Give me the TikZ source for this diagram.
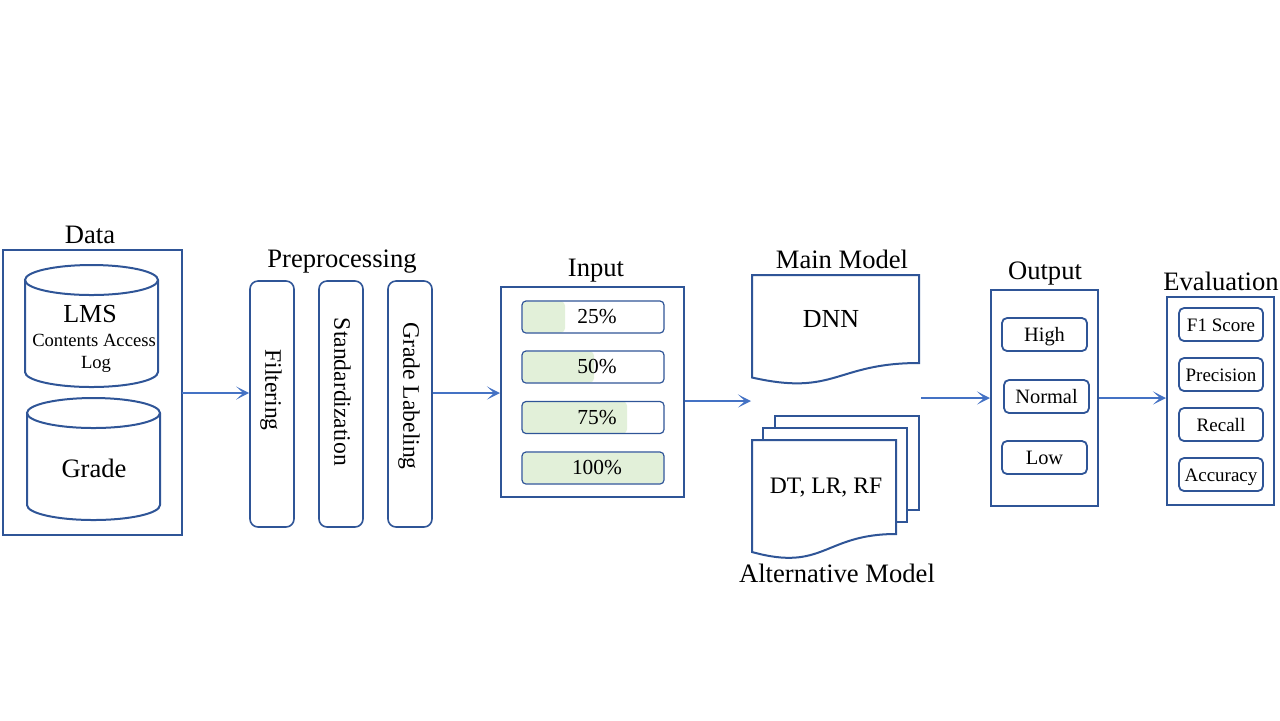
\documentclass[tikz,border=0pt]{standalone}
\usepackage{fontspec}
\setmainfont{Liberation Serif}
\usetikzlibrary{arrows.meta}
\definecolor{boxblue}{RGB}{47,85,151}
\definecolor{arrowblue}{RGB}{68,114,196}
\definecolor{barfill}{RGB}{226,240,217}

\begin{document}
\begin{tikzpicture}[x=0.5pt, y=-0.5pt,
		box_style/.style={draw=boxblue, line width=1pt, inner sep=0pt},
		db_style/.style={draw=boxblue, line width=1pt},
		doc_style/.style={draw=boxblue, line width=1pt, fill=white},
		pre_style/.style={draw=boxblue, line width=0.8pt, rounded corners=4pt, minimum width=22pt, minimum height=123pt, inner sep=0pt},
		bar_style/.style={draw=boxblue, line width=0.6pt, rounded corners=2pt, minimum width=71pt, minimum height=16pt, inner sep=0pt, font=\fontsize{10.7}{12}\selectfont, text height=0.66em, text depth=0pt},
		btn_style/.style={draw=boxblue, line width=0.9pt, rounded corners=2.5pt, minimum height=16.5pt, inner sep=0pt, text height=0.66em, text depth=0pt},
		title_style/.style={anchor=base, inner sep=0pt, font=\fontsize{13.3}{15}\selectfont},
		text_style/.style={inner sep=0pt, text height=0.66em, text depth=0pt},
		rot_style/.style={rotate=-90, inner sep=0pt, font=\fontsize{11.8}{13}\selectfont, text height=0.66em, text depth=0pt},
		edge_style/.style={draw=arrowblue, line width=1pt, -{Stealth[length=6.5pt, width=6.5pt, inset=3.5pt]}}]
		
		\useasboundingbox (0,0) rectangle (1280,720);
		
		% data
		\node[box_style, minimum width=89.5pt, minimum height=142.5pt] (data) at (92.5,392.5) {};
		\node[title_style] (t_data) at (90,243) {Data};
		\draw[db_style] (91.5,280) ellipse [x radius=66.5, y radius=15];
		\draw[db_style] (25,280) -- (25,372) arc[start angle=180, end angle=0, x radius=66.5, y radius=15] -- (158,280);
		\draw[db_style] (93.5,413) ellipse [x radius=66.5, y radius=15];
		\draw[db_style] (27,413) -- (27,505) arc[start angle=180, end angle=0, x radius=66.5, y radius=15] -- (160,413);
		\node[anchor=base, inner sep=0pt, font=\fontsize{13}{15}\selectfont] (lms) at (90,322) {LMS};
		\node[anchor=base, inner sep=0pt, font=\fontsize{9.3}{11}\selectfont] (lms1) at (94,346) {Contents Access};
		\node[anchor=base, inner sep=0pt, font=\fontsize{9.3}{11}\selectfont] (lms2) at (96,368) {Log};
		\node[anchor=base, inner sep=0pt, font=\fontsize{13.3}{15}\selectfont] (grade) at (94,477) {Grade};
		\coordinate (d_out) at (182,393);
		
		% preprocessing
		\node[title_style] (t_pre) at (342,267) {Preprocessing};
		\node[pre_style] (p1) at (272,404) {};
		\node[pre_style] (p2) at (341,404) {};
		\node[pre_style] (p3) at (410,404) {};
		\node[rot_style] (r1) at (272,390) {Filtering};
		\node[rot_style] (r2) at (341,392) {Standardization};
		\node[rot_style] (r3) at (410,396) {Grade Labeling};
		
		% input
		\node[box_style, minimum width=91.5pt, minimum height=105pt] (inp) at (592.5,392) {};
		\node[title_style] (t_in) at (596,276) {Input};
		\fill[barfill, rounded corners=2pt] (522.5,301.5) rectangle (565,332.5);
		\fill[barfill, rounded corners=2pt] (522.5,351.5) rectangle (594,382.5);
		\fill[barfill, rounded corners=2pt] (522.5,401.5) rectangle (627,433.5);
		\fill[barfill, rounded corners=2pt] (522.5,452.5) rectangle (663.5,483.5);
		\node[bar_style] (b1) at (593,317) {\hspace{4pt}25\%};
		\node[bar_style] (b2) at (593,367) {\hspace{4pt}50\%};
		\node[bar_style] (b3) at (593,417.5) {\hspace{4pt}75\%};
		\node[bar_style] (b4) at (593,468) {\hspace{4pt}100\%};
		
		% models
		\node[title_style] (t_main) at (842,268) {Main Model};
		\draw[doc_style] (752,275) -- (919,275) -- (919,363) .. controls (835.5,363) and (835.5,396.5) .. (752,377.5) -- cycle;
		\node[text_style, font=\fontsize{13}{15}\selectfont] (dnn) at (831,320.5) {DNN};
		\draw[doc_style] (775,428) -- (775,416) -- (919,416) -- (919,510) -- (907,510);
		\draw[doc_style] (763,440) -- (763,428) -- (907,428) -- (907,522) -- (896,522);
		\draw[doc_style] (752,440) -- (896,440) -- (896,534) .. controls (824,534) and (824,572) .. (752,552) -- cycle;
		\node[text_style, font=\fontsize{11.8}{13}\selectfont] (alt) at (826,487) {DT, LR, RF};
		\node[title_style] (t_alt) at (837,582) {Alternative Model};
		\coordinate (m_in) at (751,401);
		\coordinate (m_out) at (921,398);
		
		% output
		\node[box_style, minimum width=53.5pt, minimum height=108pt] (out) at (1044.5,398) {};
		\node[title_style] (t_out) at (1045,279) {Output};
		\node[btn_style, minimum width=42.5pt, font=\fontsize{10.2}{12}\selectfont] (o1) at (1044.5,334.5) {High};
		\node[btn_style, minimum width=42.5pt, font=\fontsize{10.2}{12}\selectfont] (o2) at (1046.5,396.5) {Normal};
		\node[btn_style, minimum width=42.5pt, font=\fontsize{10.2}{12}\selectfont] (o3) at (1044.5,457.5) {Low};
		
		% evaluation
		\node[box_style, minimum width=53.5pt, minimum height=104pt] (ev) at (1220.5,401) {};
		\node[title_style] (t_ev) at (1221,290) {Evaluation};
		\node[btn_style, minimum width=42pt, font=\fontsize{9.5}{11}\selectfont] (e1) at (1221,324.5) {F1 Score};
		\node[btn_style, minimum width=42pt, font=\fontsize{9.5}{11}\selectfont] (e2) at (1221,374.5) {Precision};
		\node[btn_style, minimum width=42pt, font=\fontsize{9.5}{11}\selectfont] (e3) at (1221,424.5) {Recall};
		\node[btn_style, minimum width=42pt, font=\fontsize{9.5}{11}\selectfont] (e4) at (1221,474.5) {Accuracy};
		
		\draw[edge_style] (d_out) -- (p1.west |- d_out);
		\draw[edge_style] (p3.east |- d_out) -- (inp.west |- d_out);
		\draw[edge_style] (inp.east |- m_in) -- (m_in);
		\draw[edge_style] (m_out) -- (out.west |- m_out);
		\draw[edge_style] (out.east) -- (ev.west |- out.east);
		
\end{tikzpicture}
\end{document}
